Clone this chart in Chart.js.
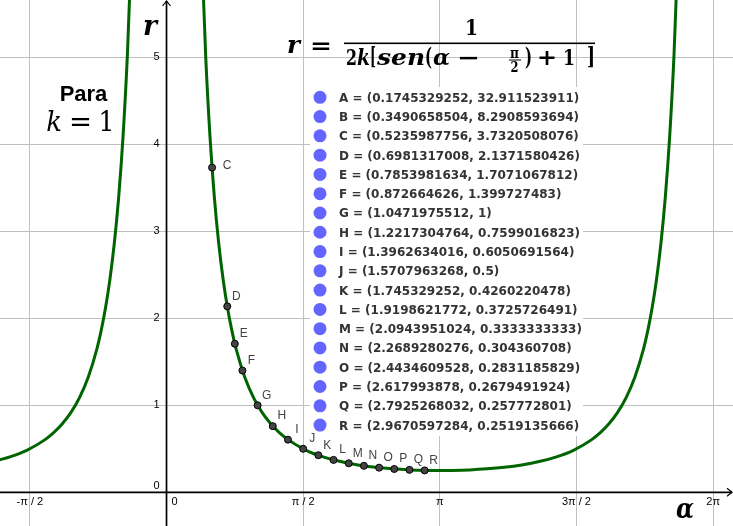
<!DOCTYPE html>
<html>
<head>
<meta charset="utf-8">
<script src="https://cdn.jsdelivr.net/npm/chart.js@4/dist/chart.umd.min.js"></script>
<style>
html, body { margin: 0; padding: 0; background: #fff; }
#wrap { width: 733px; height: 526px; }
</style>
</head>
<body>
<div id="wrap"><canvas id="chart" width="733" height="526"></canvas></div>
<script>
// visible window of the graphics view
var alphaMin = -1.914, alphaMax = 6.5115;
var rMin = -0.3874, rMax = 5.6586;

var xTickValues = [-Math.PI / 2, 0, Math.PI / 2, Math.PI, 3 * Math.PI / 2, 2 * Math.PI];
var xTickLabels = ['-π / 2', '0', 'π / 2', 'π', '3π / 2', '2π'];
var yTickValues = [0, 1, 2, 3, 4, 5];
var yTickLabels = ['0', '1', '2', '3', '4', '5'];

// curve, left branch (alpha < 0)
var leftAlpha = [-1.95, -1.8, -1.6, -1.4, -1.3, -1.2, -1.1, -1.0, -0.9, -0.8, -0.75, -0.7, -0.65, -0.6, -0.55, -0.5, -0.45, -0.4, -0.36];
var leftR = [0.3649, 0.4074, 0.4858, 0.6024, 0.6826, 0.7841, 0.9151, 1.0877, 1.3214, 1.6486, 1.8635, 2.1262, 2.4520, 2.8626, 3.3904, 4.0844, 5.0225, 6.3340, 7.800];

// middle branch (0 < alpha < 2pi)
var midAlpha = [0.36, 0.4, 0.45, 0.5, 0.55, 0.6, 0.65, 0.7, 0.75, 0.8, 0.9, 1.0, 1.1, 1.2, 1.3, 1.4, 1.6, 1.8, 2.0, 2.2, 2.4, 2.6, 2.8, 3.0, 3.1416,
  3.2832, 3.4832, 3.6832, 3.8832, 4.0832, 4.2832, 4.4832, 4.6832, 4.8832, 4.9832, 5.0832, 5.1832, 5.2832, 5.3832, 5.4832, 5.5332, 5.5832, 5.6332, 5.6832, 5.7332, 5.7832, 5.8332, 5.8832, 5.9232];
var midR = [7.800, 6.3340, 5.0225, 4.0844, 3.3904, 2.8626, 2.4520, 2.1262, 1.8635, 1.6486, 1.3214, 1.0877, 0.9151, 0.7841, 0.6826, 0.6024, 0.4858, 0.4074, 0.3531, 0.3148, 0.2878, 0.2693, 0.2574, 0.2513, 0.25,
  0.2513, 0.2574, 0.2693, 0.2878, 0.3148, 0.3531, 0.4074, 0.4858, 0.6024, 0.6826, 0.7841, 0.9151, 1.0877, 1.3214, 1.6486, 1.8635, 2.1262, 2.4520, 2.8626, 3.3904, 4.0844, 5.0225, 6.3340, 7.800];

// named points A..R
var pointNames = ['A', 'B', 'C', 'D', 'E', 'F', 'G', 'H', 'I', 'J', 'K', 'L', 'M', 'N', 'O', 'P', 'Q', 'R'];
var pointAlpha = [0.1745329252, 0.3490658504, 0.5235987756, 0.6981317008, 0.7853981634, 0.872664626, 1.0471975512, 1.2217304764, 1.3962634016,
  1.5707963268, 1.745329252, 1.9198621772, 2.0943951024, 2.2689280276, 2.4434609528, 2.617993878, 2.7925268032, 2.9670597284];
var pointR = [32.911523911, 8.2908593694, 3.7320508076, 2.1371580426, 1.7071067812, 1.399727483, 1, 0.7599016823, 0.6050691564,
  0.5, 0.4260220478, 0.3725726491, 0.3333333333, 0.304360708, 0.2831185829, 0.2679491924, 0.257772801, 0.2519135666];

function toXY(xs, ys) {
  return xs.map(function (x, i) { return { x: x, y: ys[i] }; });
}

var serif = '"DejaVu Serif", serif';

function piece(c, text, font, cx, base, w) {
  c.font = font;
  var m = c.measureText(text).width;
  c.save();
  c.translate(cx, base);
  if (w) c.scale(w / m, 1);
  c.textAlign = 'center';
  c.textBaseline = 'alphabetic';
  c.fillText(text, 0, 0);
  c.restore();
}

var axesPlugin = {
  id: 'axes',
  beforeDatasetsDraw: function (chart) {
    var c = chart.ctx, xs = chart.scales.x, ys = chart.scales.y, area = chart.chartArea;
    var ox = xs.getPixelForValue(0), oy = ys.getPixelForValue(0);
    c.save();
    c.strokeStyle = '#000';
    c.lineWidth = 1.7;
    c.beginPath();
    c.moveTo(area.left, oy); c.lineTo(area.right - 1, oy);
    c.moveTo(ox, area.bottom); c.lineTo(ox, area.top + 1);
    c.stroke();
    c.lineWidth = 1.2;
    c.beginPath();
    c.moveTo(area.right - 6, oy - 4); c.lineTo(area.right - 1, oy); c.lineTo(area.right - 6, oy + 4);
    c.moveTo(ox - 4, area.top + 6); c.lineTo(ox, area.top + 1); c.lineTo(ox + 4, area.top + 6);
    c.stroke();

    c.fillStyle = '#000';
    c.font = '11px "Liberation Sans", Arial, sans-serif';
    c.textBaseline = 'middle';
    xTickValues.forEach(function (v, i) {
      var px = xs.getPixelForValue(v);
      if (v === 0) {
        c.textAlign = 'left';
        c.fillText(xTickLabels[i], px + 5, oy + 10);
      } else {
        c.textAlign = 'center';
        c.fillText(xTickLabels[i], px, oy + 10);
      }
    });
    c.textAlign = 'right';
    yTickValues.forEach(function (v, i) {
      var py = ys.getPixelForValue(v);
      c.fillText(yTickLabels[i], ox - 7, v === 0 ? py - 6 : py);
    });
    c.restore();
  }
};

var notesPlugin = {
  id: 'notes',
  afterDatasetsDraw: function (chart) {
    var c = chart.ctx, xs = chart.scales.x, ys = chart.scales.y, area = chart.chartArea;
    c.save();

    // list of the points (algebra entries)
    c.fillStyle = '#fff';
    c.fillRect(310, 87, 273, 349);
    pointNames.forEach(function (name, i) {
      var y = 97.3 + i * 19.28;
      c.fillStyle = '#6464ff';
      c.beginPath();
      c.arc(320, y, 6.5, 0, Math.PI * 2);
      c.fill();
      c.fillStyle = '#333';
      c.font = 'bold 12px "DejaVu Sans", sans-serif';
      c.textAlign = 'left';
      c.textBaseline = 'alphabetic';
      c.fillText(name + ' = (' + pointAlpha[i] + ', ' + pointR[i] + ')', 339, y + 4.5);
    });

    // point labels next to the points
    c.fillStyle = '#444';
    c.font = '12px "Liberation Sans", Arial, sans-serif';
    c.textAlign = 'center';
    c.textBaseline = 'middle';
    pointNames.forEach(function (name, i) {
      var px = xs.getPixelForValue(pointAlpha[i]), py = ys.getPixelForValue(pointR[i]);
      if (px < area.left || px > area.right || py < area.top || py > area.bottom) return;
      var off = name === 'C' ? [15, -2] : [9, -10];
      c.fillText(name, px + off[0], py + off[1]);
    });

    // formula
    c.fillStyle = '#000';
    var b = 'bold 22px ' + serif, bi = 'italic bold 22px ' + serif;
    piece(c, 'r', 'italic bold 24px ' + serif, 293.5, 53, 13);
    piece(c, '=', b, 321, 53, 22);
    c.fillRect(344, 42.5, 251, 1.6);
    piece(c, '1', b, 471.5, 35, 13);
    piece(c, '2', b, 351.5, 65, 11);
    piece(c, 'k', bi, 363.5, 65, 13);
    piece(c, '[', 'bold 25px ' + serif, 373, 65, 6);
    piece(c, 'sen', bi, 401, 65, 48);
    piece(c, '(', 'bold 25px ' + serif, 428.5, 65, 7);
    piece(c, 'α', bi, 441.5, 65, 17);
    piece(c, '−', b, 468.5, 65, 23);
    piece(c, 'π', 'bold 15px ' + serif, 514.5, 57.5, 9);
    c.fillRect(509, 59.5, 12, 1);
    piece(c, '2', 'bold 14px ' + serif, 514.5, 71.5, 8);
    piece(c, ')', 'bold 25px ' + serif, 528.5, 65, 7);
    piece(c, '+', b, 547, 65, 20);
    piece(c, '1', b, 569, 65, 12);
    piece(c, ']', 'bold 25px ' + serif, 591, 65, 8);

    // Para k = 1
    c.font = 'bold 22px "Liberation Sans", Arial, sans-serif';
    c.textAlign = 'center';
    c.fillText('Para', 83.5, 95);
    piece(c, 'k', 'italic 28px ' + serif, 54, 130.5, 15.7);
    piece(c, '=', '28px ' + serif, 80.5, 130.5, 23);
    piece(c, '1', '28px ' + serif, 106.5, 130.5, 16);

    // axis titles
    piece(c, 'r', 'italic bold 28px ' + serif, 150, 35, 14);
    piece(c, 'α', 'italic bold 28px ' + serif, 685, 518, 18);
    c.restore();
  }
};

var ctx = document.getElementById('chart').getContext('2d');
var curveStyle = {
  showLine: true,
  borderColor: '#006400',
  borderWidth: 3,
  pointRadius: 0,
  pointHoverRadius: 0,
  cubicInterpolationMode: 'monotone',
  order: 1
};
new Chart(ctx, {
  type: 'scatter',
  data: {
    datasets: [
      Object.assign({ data: toXY(leftAlpha, leftR) }, curveStyle),
      Object.assign({ data: toXY(midAlpha, midR) }, curveStyle),
      {
        data: toXY(pointAlpha, pointR),
        pointRadius: 3.5,
        pointBackgroundColor: '#444',
        pointBorderColor: '#000',
        pointBorderWidth: 1,
        order: 0
      }
    ]
  },
  options: {
    responsive: false,
    animation: false,
    layout: { padding: 0, autoPadding: false },
    plugins: { legend: { display: false }, tooltip: { enabled: false } },
    scales: {
      x: {
        type: 'linear', min: alphaMin, max: alphaMax,
        afterBuildTicks: function (s) { s.ticks = xTickValues.map(function (v) { return { value: v }; }); },
        ticks: { display: false },
        grid: { color: '#c0c0c0', lineWidth: 1, drawTicks: false },
        border: { display: false }
      },
      y: {
        type: 'linear', min: rMin, max: rMax,
        afterBuildTicks: function (s) { s.ticks = yTickValues.map(function (v) { return { value: v }; }); },
        ticks: { display: false },
        grid: { color: '#c0c0c0', lineWidth: 1, drawTicks: false },
        border: { display: false }
      }
    }
  },
  plugins: [axesPlugin, notesPlugin]
});
</script>
</body>
</html>
